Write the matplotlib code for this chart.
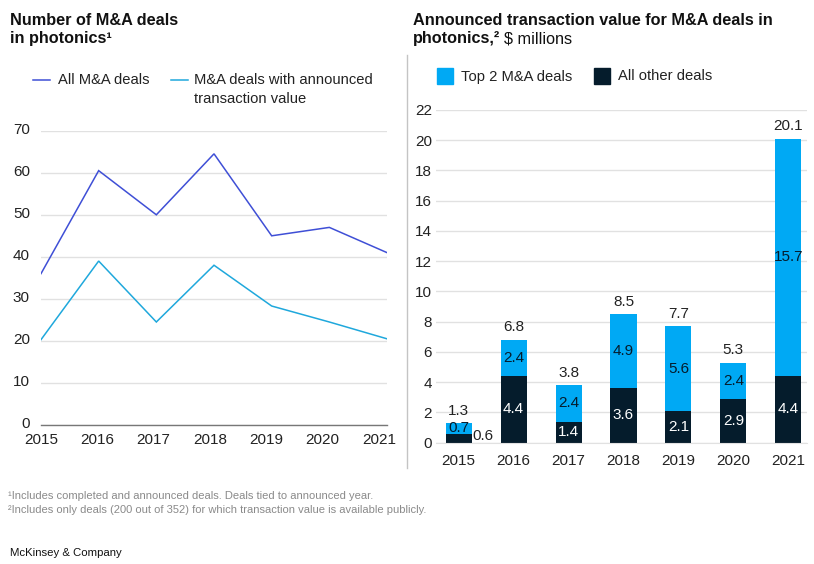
import matplotlib
matplotlib.use("Agg")
import matplotlib.pyplot as plt
from matplotlib.lines import Line2D
from matplotlib.patches import Rectangle
import matplotlib.transforms as mtransforms

plt.rcParams['font.family'] = ['Liberation Sans', 'DejaVu Sans']

# ---------------- data ----------------
years = [2015, 2016, 2017, 2018, 2019, 2020, 2021]
year_labels = ['2015', '2016', '2017', '2018', '2019', '2020', '2021']
all_deals = [36, 60.5, 50, 64.5, 45, 47, 41]
announced_deals = [20.3, 39, 24.5, 38, 28.3, 24.5, 20.5]
left_yticks = [0, 10, 20, 30, 40, 50, 60, 70]

top2_value = [0.7, 2.4, 2.4, 4.9, 5.6, 2.4, 15.7]
other_value = [0.6, 4.4, 1.4, 3.6, 2.1, 2.9, 4.4]
total_value = [1.3, 6.8, 3.8, 8.5, 7.7, 5.3, 20.1]
right_yticks = [0, 2, 4, 6, 8, 10, 12, 14, 16, 18, 20, 22]

# ---------------- style ----------------
C_ALL = '#3f4fd6'
C_ANN = '#1fa8dc'
C_TOP = '#00a9f4'
C_OTH = '#051c2c'
C_GRID = '#e1e1e1'
C_TXT = '#222222'
FS_TICK = 11
FS_LEG = 10.6

W, H = 814, 564
fig = plt.figure(figsize=(W / 100, H / 100), dpi=100)
fig.patch.set_facecolor('white')


def fx(px):
    return px / W


def fy(py):
    return 1 - py / H


# ---------------- titles ----------------
fig.text(fx(10), fy(25), 'Number of M&A deals', fontsize=11.7, fontweight='bold',
         color='#111111', va='baseline', ha='left')
fig.text(fx(10), fy(43.5), 'in photonics\u00b9', fontsize=11.7, fontweight='bold',
         color='#111111', va='baseline', ha='left')
fig.text(fx(413), fy(25), 'Announced transaction value for M&A deals in', fontsize=11.7,
         fontweight='bold', color='#111111', va='baseline', ha='left')
t_b = fig.text(fx(413), fy(43.5), 'photonics,\u00b2', fontsize=11.7, fontweight='bold',
               color='#111111', va='baseline', ha='left')
fig.canvas.draw()
bb = t_b.get_window_extent()
fig.text(bb.x1 / W + fx(4), fy(43.5), '$ millions', fontsize=11.7, color='#111111',
         va='baseline', ha='left')

# ---------------- left legend ----------------
fig.add_artist(Line2D([fx(33), fx(50)], [fy(80), fy(80)], color=C_ALL, lw=1.1))
fig.text(fx(58), fy(80), 'All M&A deals', fontsize=FS_LEG, color=C_TXT, va='center', ha='left')
fig.add_artist(Line2D([fx(171), fx(188)], [fy(80), fy(80)], color=C_ANN, lw=1.1))
fig.text(fx(194), fy(80), 'M&A deals with announced', fontsize=FS_LEG, color=C_TXT,
         va='center', ha='left')
fig.text(fx(194), fy(99.5), 'transaction value', fontsize=FS_LEG, color=C_TXT,
         va='center', ha='left')

# ---------------- right legend ----------------
fig.add_artist(Rectangle((fx(437), fy(84)), fx(16), 16 / H, color=C_TOP,
                         transform=fig.transFigure))
fig.text(fx(461), fy(76.5), 'Top 2 M&A deals', fontsize=FS_LEG, color=C_TXT, va='center', ha='left')
fig.add_artist(Rectangle((fx(594), fy(84)), fx(16), 16 / H, color=C_OTH,
                         transform=fig.transFigure))
fig.text(fx(618), fy(76.5), 'All other deals', fontsize=FS_LEG, color=C_TXT, va='center', ha='left')

# separator
fig.add_artist(Line2D([fx(406.7), fx(406.7)], [fy(55), fy(468)], color='#c4c4c4', lw=1))

# ---------------- left chart ----------------
axL = fig.add_axes([fx(41), fy(425), fx(387 - 41), (425 - 130.7) / H])
axL.plot(years, all_deals, color=C_ALL, lw=1.1, solid_joinstyle='miter')
axL.plot(years, announced_deals, color=C_ANN, lw=1.1, solid_joinstyle='miter')
axL.set_xlim(2015, 2021)
axL.set_ylim(0, 70)
axL.set_yticks(left_yticks)
axL.set_yticklabels([str(v) for v in left_yticks])
axL.set_xticks(years)
axL.set_xticklabels(year_labels)
axL.yaxis.grid(True, color=C_GRID, lw=1)
axL.set_axisbelow(True)
for s in ['top', 'right', 'left']:
    axL.spines[s].set_visible(False)
axL.spines['bottom'].set_color('#777777')
axL.spines['bottom'].set_linewidth(1)
axL.tick_params(axis='both', length=0, labelsize=FS_TICK, labelcolor=C_TXT)
axL.tick_params(axis='y', pad=8)
axL.tick_params(axis='x', pad=6)
for i, lab in enumerate(axL.get_xticklabels()):
    lab.set_transform(lab.get_transform() +
                      mtransforms.ScaledTranslation(-i * 8 / 6 / 100, 0, fig.dpi_scale_trans))
for lab in axL.get_yticklabels():
    lab.set_transform(lab.get_transform() +
                      mtransforms.ScaledTranslation(0, 2 / 100, fig.dpi_scale_trans))

# ---------------- right chart ----------------
axR = fig.add_axes([fx(436), fy(442.7), fx(807 - 436), (442.7 - 109.9) / H])
xpos = list(range(len(years)))
bw = 0.475
axR.bar(xpos, other_value, width=bw, color=C_OTH, zorder=2)
axR.bar(xpos, top2_value, width=bw, bottom=other_value, color=C_TOP, zorder=2)
axR.set_xlim(-0.413, 6.34)
axR.set_ylim(0, 22)
axR.set_yticks(right_yticks)
axR.set_yticklabels([str(v) for v in right_yticks])
axR.set_xticks(xpos)
axR.set_xticklabels(year_labels)
axR.yaxis.grid(True, color=C_GRID, lw=1)
axR.set_axisbelow(True)
for s in ['top', 'right', 'left']:
    axR.spines[s].set_visible(False)
axR.spines['bottom'].set_color(C_GRID)
axR.tick_params(axis='both', length=0, labelsize=FS_TICK, labelcolor=C_TXT)
axR.tick_params(axis='y', pad=3)
axR.tick_params(axis='x', pad=8)

for i in xpos:
    o, t, tot = other_value[i], top2_value[i], total_value[i]
    axR.annotate(f'{tot:.1f}', (i, o + t), xytext=(0, 9), textcoords='offset points',
                 ha='center', va='center', fontsize=FS_TICK, color=C_TXT)
    axR.text(i, o + t / 2, f'{t:.1f}', ha='center', va='center', fontsize=FS_TICK,
             color=C_OTH, zorder=3)
    if i == 0:
        axR.annotate(f'{o:.1f}', (i + bw / 2, o / 2), xytext=(0.5, 1.5),
                     textcoords='offset points', ha='left', va='center', fontsize=FS_TICK,
                     color=C_TXT, zorder=3)
    else:
        axR.text(i, o / 2, f'{o:.1f}', ha='center', va='center', fontsize=FS_TICK,
                 color='white', zorder=3)

# ---------------- footnotes ----------------
fig.text(fx(8), fy(496), '\u00b9Includes completed and announced deals. Deals tied to announced year.',
         fontsize=8, color='#8a8a8a', va='center', ha='left')
fig.text(fx(8), fy(510), '\u00b2Includes only deals (200 out of 352) for which transaction value is available publicly.',
         fontsize=8, color='#8a8a8a', va='center', ha='left')
fig.text(fx(10), fy(553), 'McKinsey & Company', fontsize=8.2, color='#111111',
         va='center', ha='left')

fig.savefig('out.png', dpi=100, facecolor='white')
